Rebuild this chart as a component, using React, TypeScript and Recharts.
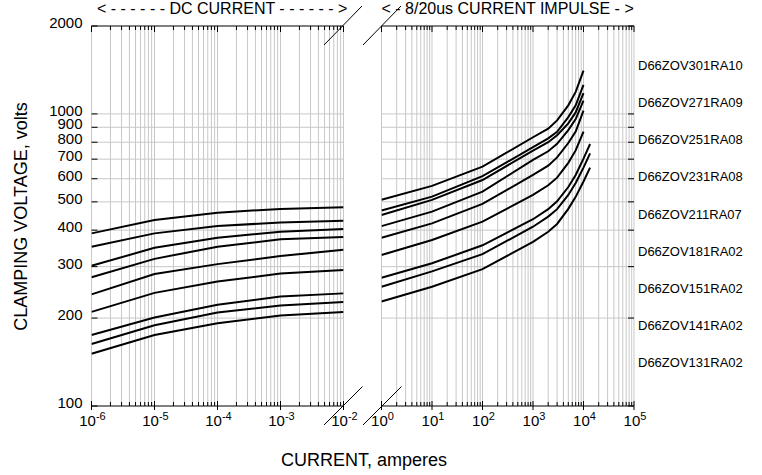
import React from "react";
import { LineChart, Line, XAxis, YAxis, ReferenceLine } from "recharts";

// part numbers, top curve first
const models = [
  "D66ZOV301RA10",
  "D66ZOV271RA09",
  "D66ZOV251RA08",
  "D66ZOV231RA08",
  "D66ZOV211RA07",
  "D66ZOV181RA02",
  "D66ZOV151RA02",
  "D66ZOV141RA02",
  "D66ZOV131RA02",
];

// DC current (amperes)
const dcCurrent = [1e-6, 1e-5, 1e-4, 1e-3, 1e-2];
// 8/20us impulse current (amperes)
const pulseCurrent = [1, 10, 100, 1000, 2000, 3000, 5000, 7000, 10000, 13500];

// clamping volts, one row per model
const dcVolts = [
  [390, 433, 459, 473, 479],
  [351, 390, 413, 425, 431],
  [302, 348, 377, 395, 404],
  [276, 319, 351, 372, 379],
  [241, 283, 306, 326, 343],
  [210, 244, 267, 284, 292],
  [175, 201, 222, 237, 243],
  [163, 189, 209, 221, 227],
  [151, 175, 192, 204, 210],
];

const pulseVolts = [
  [508, 567, 660, 832, 890, 950, 1070, 1190, 1407, null],
  [467, 521, 612, 769, 825, 868, 975, 1070, 1257, null],
  [451, 508, 594, 749, 800, 845, 928, 1012, 1178, null],
  [413, 463, 542, 696, 745, 790, 880, 960, 1111, null],
  [377, 422, 492, 618, 665, 710, 795, 870, 1026, null],
  [329, 370, 428, 528, 570, 605, 680, 750, 869, null],
  [275, 308, 355, 436, 472, 502, 562, 618, 703, 789],
  [256, 289, 331, 411, 445, 472, 528, 580, 655, 733],
  [228, 256, 294, 365, 395, 420, 473, 520, 587, 655],
];

const dcDecades = [1e-6, 1e-5, 1e-4, 1e-3, 1e-2];
const pulseDecades = [1, 10, 100, 1000, 10000, 100000];
const voltTicks = [100, 200, 300, 400, 500, 600, 700, 800, 900, 1000, 2000];
const voltGrid = [200, 300, 400, 500, 600, 700, 800, 900, 1000];

const FONT = "'Liberation Sans', Arial, sans-serif";
const GRID = "#c8c8c8";

function logTicks(decades: number[]) {
  const out: number[] = [];
  decades.slice(0, -1).forEach((d) => {
    for (let k = 1; k < 10; k++) out.push(k * d);
  });
  out.push(decades[decades.length - 1]);
  return out;
}

const dcTicks = logTicks(dcDecades);
const pulseTicks = logTicks(pulseDecades);

const toRows = (xs: number[], vals: (number | null)[][]) =>
  xs.map((x, i) => {
    const row: any = { current: x };
    vals.forEach((v, s) => (row["s" + s] = v[i]));
    return row;
  });

const dcRows = toRows(dcCurrent, dcVolts);
const pulseRows = toRows(pulseCurrent, pulseVolts);

const isDecade = (v: number) => {
  const l = Math.log10(v);
  return Math.abs(l - Math.round(l)) < 1e-6;
};

const bottomTick = (p: any) => {
  const v = p.payload.value;
  const major = isDecade(v);
  const e = Math.round(Math.log10(v));
  return (
    <g>
      <line x1={p.x} x2={p.x} y1={p.y - (major ? 5 : 4)} y2={p.y + (major ? 4 : 0)} stroke="#000" />
      {major && (
        <text x={p.x + 1} y={p.y + 20} textAnchor="middle" fontSize={15} fill="#000" fontFamily={FONT}>
          10
          <tspan dy={-6} fontSize={11}>
            {e}
          </tspan>
        </text>
      )}
    </g>
  );
};

const topTick = (p: any) => {
  const major = isDecade(p.payload.value);
  return <line x1={p.x} x2={p.x} y1={p.y} y2={p.y + (major ? 6 : 4)} stroke="#000" />;
};

const leftTick = (p: any) => (
  <g>
    <line x1={p.x} x2={p.x + 6} y1={p.y} y2={p.y} stroke="#000" />
    <text x={p.x - 9} y={p.y + 2} textAnchor="end" fontSize={15} fill="#000" fontFamily={FONT}>
      {p.payload.value}
    </text>
  </g>
);

const rightTick = (p: any) => <line x1={p.x - 6} x2={p.x} y1={p.y} y2={p.y} stroke="#000" />;

function Panel(props: {
  data: any[];
  domain: [number, number];
  ticks: number[];
  margin: any;
  side: "left" | "right";
}) {
  const { data, domain, ticks, margin, side } = props;
  return (
    <LineChart width={762} height={475} data={data} margin={margin}>
      <XAxis
        xAxisId="b"
        dataKey="current"
        type="number"
        scale="log"
        domain={domain}
        allowDataOverflow
        ticks={ticks}
        interval={0}
        tickSize={0}
        tickMargin={0}
        height={30}
        axisLine={{ stroke: "#000" }}
        tick={bottomTick}
      />
      <XAxis
        xAxisId="t"
        orientation="top"
        dataKey="current"
        type="number"
        scale="log"
        domain={domain}
        allowDataOverflow
        ticks={ticks}
        interval={0}
        tickSize={0}
        tickMargin={0}
        height={10}
        axisLine={{ stroke: "#000" }}
        tick={topTick}
      />
      <YAxis
        orientation={side}
        type="number"
        scale="log"
        domain={[100, 2000]}
        allowDataOverflow
        ticks={voltTicks}
        interval={0}
        tickSize={0}
        tickMargin={0}
        width={side === "left" ? 91.5 : 10}
        axisLine={false}
        tick={side === "left" ? leftTick : rightTick}
      />
      {ticks.map((v) => (
        <ReferenceLine key={"x" + v} xAxisId="b" x={v} stroke={GRID} strokeWidth={1} />
      ))}
      {voltGrid.map((v) => (
        <ReferenceLine key={"y" + v} xAxisId="b" y={v} stroke={GRID} strokeWidth={1} />
      ))}
      {models.map((m, s) => (
        <Line
          key={m}
          name={m}
          xAxisId="b"
          dataKey={"s" + s}
          type="linear"
          stroke="#000"
          strokeWidth={2}
          dot={false}
          isAnimationActive={false}
        />
      ))}
    </LineChart>
  );
}

export default function App() {
  const abs: React.CSSProperties = { position: "absolute", left: 0, top: 0 };
  return (
    <div style={{ ...abs, width: 762, height: 475, background: "#fff", fontFamily: FONT }}>
      <div style={abs}>
        <Panel
          data={dcRows}
          domain={[1e-6, 1e-2]}
          ticks={dcTicks}
          side="left"
          margin={{ top: 16, right: 418.5, bottom: 39, left: 0 }}
        />
      </div>
      <div style={abs}>
        <Panel
          data={pulseRows}
          domain={[1, 1e5]}
          ticks={pulseTicks}
          side="right"
          margin={{ top: 16, right: 118, bottom: 39, left: 381.5 }}
        />
      </div>
      <svg width={762} height={475} style={{ ...abs, pointerEvents: "none" }} fontFamily={FONT}>
        <text x={97} y={14} fontSize={16} fill="#000">
          {"< - - - - - - DC CURRENT - - - - - - >"}
        </text>
        <text x={381.5} y={14} fontSize={16} fill="#000">
          {"< - 8/20us CURRENT IMPULSE - >"}
        </text>
        <text transform="translate(27,216.5) rotate(-90)" textAnchor="middle" fontSize={18} fill="#000">
          CLAMPING VOLTAGE, volts
        </text>
        <text x={364} y={466} textAnchor="middle" fontSize={18} fill="#000">
          CURRENT, amperes
        </text>
        {models.map((m, i) => (
          <text key={m} x={638} y={65 + i * 37.2 + 4.7} fontSize={13} fill="#000">
            {m}
          </text>
        ))}
        <line x1={324} y1={45} x2={362} y2={6} stroke="#000" />
        <line x1={363} y1={45} x2={401} y2={6} stroke="#000" />
        <line x1={324} y1={425} x2={362.5} y2={386.5} stroke="#000" />
        <line x1={363} y1={425} x2={401.5} y2={386.5} stroke="#000" />
      </svg>
    </div>
  );
}
